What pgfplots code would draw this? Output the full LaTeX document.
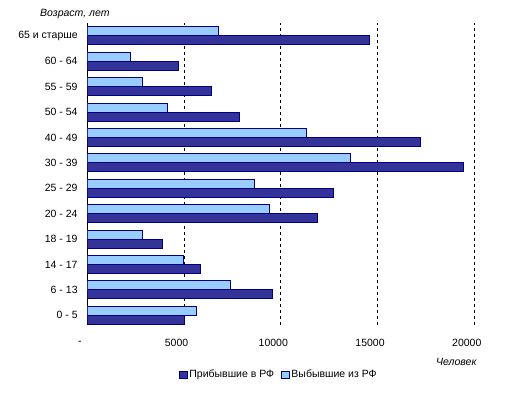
\documentclass[border=0pt]{standalone}
\usepackage{fontspec}
\setmainfont{Liberation Sans}
\usepackage{pgfplots}
\pgfplotsset{compat=1.18}
\definecolor{darkbar}{RGB}{51,51,153}
\definecolor{lightbar}{RGB}{153,204,255}
\definecolor{barline}{RGB}{0,0,128}
\begin{document}
\fontsize{10.5}{12}\selectfont
\begin{tikzpicture}
\useasboundingbox (-87.3pt,-70pt) rectangle (425.7pt,325pt);
\begin{axis}[
  at={(0pt,0pt)}, anchor=south west,
  scale only axis, width=387pt, height=302.3pt,
  xbar, bar width=9pt,
  xmin=0, xmax=20000, ymin=-0.384, ymax=11.516,
  scaled x ticks=false,
  axis line style={draw=none},
  major tick length=0pt,
  xtick={5000,10000,15000,20000},
  xticklabels={5000,10000,15000,20000},
  extra x ticks={0}, extra x tick labels={-},
  extra x tick style={grid style={solid,black,line width=0.8pt}},
  xmajorgrids, grid style={black, line width=0.7pt, dash pattern=on 3pt off 3pt},
  xticklabel style={anchor=center, yshift=-18.3pt, xshift=-7.5pt},
  ytick={0,...,11},
  yticklabels={0 - 5, 6 - 13, 14 - 17, 18 - 19, 20 - 24, 25 - 29, 30 - 39, 40 - 49, 50 - 54, 55 - 59, 60 - 64, 65 и старше},
  yticklabel style={anchor=east, xshift=-6pt},
  tick label style={font=\fontsize{10.5}{12}\selectfont},
  legend style={draw=none, at={(0.495,-0.165)}, anchor=center, legend columns=2,
    font=\fontsize{10.5}{12}\selectfont,
    /tikz/every even column/.append style={column sep=5pt},
    inner xsep=0pt},
  legend cell align=left,
  legend image code/.code={\draw[#1,line width=0.8pt] (0pt,-3.7pt) rectangle (7.5pt,3.7pt);},
]
\addplot[fill=darkbar, draw=barline, line width=0.8pt, bar shift=-4.5pt] coordinates {
(5020,0) (9560,1) (5845,2) (3890,3) (11880,4) (12700,5) (19450,6) (17190,7) (7855,8) (6410,9) (4710,10) (14560,11)};
\addlegendentry{Прибывшие в РФ}
\addplot[fill=lightbar, draw=barline, line width=0.8pt, bar shift=4.5pt] coordinates {
(5640,0) (7390,1) (4970,2) (2855,3) (9400,4) (8630,5) (13580,6) (11310,7) (4125,8) (2855,9) (2215,10) (6750,11)};
\addlegendentry{Выбывшие из РФ}
\end{axis}
\node[anchor=west, inner sep=0pt, font=\itshape\fontsize{10.5}{12}\selectfont] at (-47.3pt,311.3pt) {Возраст, лет};
\node[anchor=east, inner sep=0pt, font=\itshape\fontsize{10.5}{12}\selectfont] at (389.4pt,-36.7pt) {Человек};
\end{tikzpicture}
\end{document}
